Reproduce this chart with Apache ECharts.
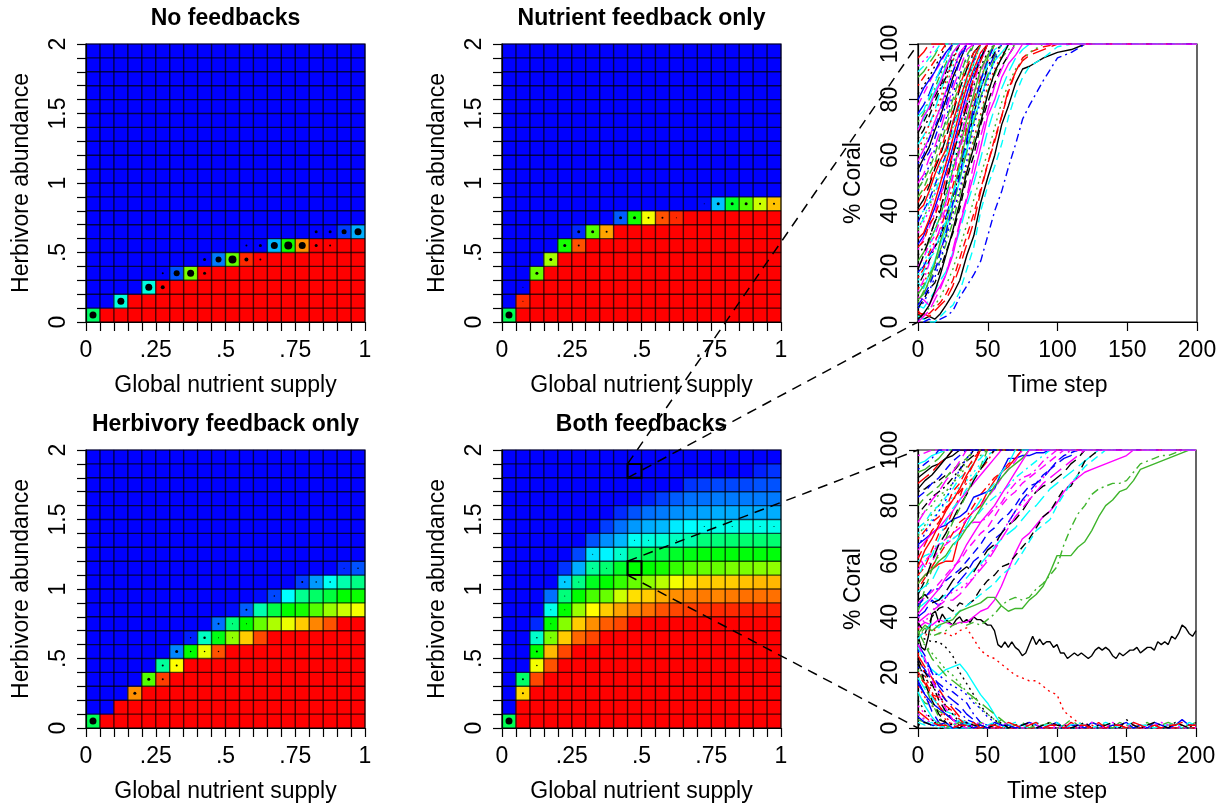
<!DOCTYPE html>
<html><head><meta charset="utf-8">
<style>html,body{margin:0;padding:0;background:#fff}#c{width:1223px;height:805px}#c canvas{filter:blur(0.4px)}</style>
<script src="https://cdn.jsdelivr.net/npm/echarts@6/dist/echarts.min.js"></script>
</head><body><div id="c"></div>
<script>
// ---------- axis text ----------
const panelTitles = ['No feedbacks','Nutrient feedback only','Herbivory feedback only','Both feedbacks'];
const nutrientTickLabels = ['0','.25','.5','.75','1'];
const herbivoreTickLabels = ['0','.5','1','1.5','2'];
const cellCategories = ['0','1','2','3','4','5','6','7','8','9','10','11','12','13','14','15','16','17','18','19'];

// ---------- heat-map values (0 blue ... 100 red), column by column ----------
// redRows: how many rows from the bottom are fully red; mixed: the next rows upward; rest are blue.
const noFeedRedRows = [0,1,1,2,2,3,3,3,4,4,4,4,5,5,5,5,6,6,6,6];
const noFeedMixed = [[40],[],[28],[],[28],[],[8],[62],[],[12],[60],[96],[],[18],[52],[86],[],[],[6],[17]];
const noFeedDots = [[0,0,7],[2,1,7],[4,2,7],[5,2,4],[5,3,2],[6,3,6],[7,3,7],[8,3,3],[8,4,3],[9,4,6],[10,4,8],[11,4,4],[12,4,2],[11,5,2],[12,5,3],[13,5,7],[14,5,8],[15,5,7],[16,5,3],[17,5,2],[16,6,3],[17,6,3],[18,6,5],[19,6,7]];

const nutrientRedRows = [0,1,3,4,5,5,6,6,7,7,7,7,7,8,8,8,8,8,8,8];
const nutrientMixed = [[42],[96],[60],[66],[52],[92,4],[58],[84],[9],[52],[74],[92],[96],[],[1],[19],[46],[58],[70],[81]];
const nutrientDots = [[0,0,7],[1,1,1],[1,2,1],[2,3,3],[3,4,3],[4,5,3],[5,5,2],[5,6,3],[6,6,3],[7,6,2],[8,7,3],[9,7,3],[10,7,2],[11,7,2],[12,7,1],[14,8,1],[15,8,3],[16,8,3],[17,8,3],[18,8,2],[19,8,2]];

const herbivoryRedRows = [0,1,2,2,3,3,4,5,5,5,6,6,6,7,7,7,7,7,8,8];
const herbivoryMixed = [[42],[],[],[86],[58],[94,35],[75,13],[50,3],[73,31],[92,48,11],[64,38,1],[80,50,9],[93,60,33,1],[67,43,7],[73,50,25],[80,52,36,6],[87,58,40,15],[92,65,44,26],[70,50,33,4],[74,51,37,8]];
const herbivoryDots = [[0,0,7],[3,2,3],[4,3,3],[5,3,2],[5,4,2],[6,4,2],[6,5,3],[7,5,1.5],[8,5,1.5],[9,5,1.5],[7,6,1.5],[8,6,2.5],[9,6,1],[10,6,1],[9,7,2],[10,7,1],[11,7,1],[11,8,2],[13,9,1.5],[15,10,2],[16,10,1.5],[17,10,1.5],[18,11,1],[19,11,1.5]];

const bothRedRows = [0,2,3,4,5,6,6,7,7,8,8,8,8,8,8,8,8,8,8,8];
const bothMixed = [[42],[79,40],[93,74,50,30,4],[92,82,62,50,27,11],[93,80,63,50,38,20,5],[90,80,65,50,37,17,7],[93,86,75,57,47,35,22,8],[91,80,60,50,39,24,14,6],[93,84,70,55,46,30,18,11,4],[87,78,60,50,38,26,15,8],[89,80,64,50,42,28,17,11,3],[92,83,68,52,43,29,18,12,6],[93,86,74,55,46,31,23,14,9],[94,87,78,58,48,33,25,15,11,5],[95,88,80,60,49,38,26,16,11,6],[96,87,80,60,49,38,27,17,12,7],[96,88,80,62,49,39,27,17,12,7],[97,89,81,62,49,39,27,17,12,7],[97,89,82,63,49,39,27,17,12,8,3],[97,89,82,64,49,39,27,17,12,8,5]];
const bothDots = [[0,0,7],[1,2,2],[1,3,2],[2,4,1.5],[2,5,2],[2,6,1.5],[3,6,1],[3,7,1],[3,8,1],[4,8,1],[4,9,1],[4,10,1.5],[5,10,1],[6,11,1],[7,11,1],[6,12,1],[8,12,1],[9,13,1],[10,13,1],[12,13,1],[14,14,1],[16,14,1],[18,14,1],[19,14,1]];

// ---------- zoom squares on the "Both feedbacks" panel: [nutrient, herbivore] lower-left corners ----------
const upperSquare = [0.45,1.8];
const lowerSquare = [0.45,1.1];

// ---------- upper run chart (Nutrient feedback time series) ----------
const upperTime = [0,4,8,12,16,20,25,30,35,40,45,50,55,60,65,70,75,80,90,100,110,120];
const upperRuns = [
[3,1,2,1,3,6,10,15,24,31,43,52,60,71,78,86,91,92,95,97,98,100],
[4,2,3,5,7,10,15,23,31,39,48,57,66,74,83,90,95,97,99,100],
[2,3,5,6,9,13,19,27,35,44,53,61,70,79,86,91,94,97,100],
[1,0,1,0,1,2,4,9,13,17,22,31,40,47,56,64,73,78,87,95,97,100],
[6,5,8,11,15,18,25,33,42,50,59,69,77,84,90,95,98,100],
[9,8,6,10,13,17,24,35,44,53,63,74,80,88,93,96,100],
[5,8,12,14,19,25,32,41,52,60,71,79,86,92,96,100],
[12,14,18,21,26,31,39,47,56,66,75,85,91,96,100],
[7,11,14,19,22,28,36,46,55,65,74,83,89,95,98,100],
[18,20,24,27,31,38,46,56,66,75,84,91,96,100],
[14,12,17,22,28,33,42,51,62,72,81,88,94,97,100],
[20,23,28,31,37,43,52,62,71,82,90,96,100],
[24,27,30,36,41,47,56,65,76,85,92,97,100],
[16,19,25,29,33,40,49,58,70,80,88,94,100],
[10,13,17,20,26,31,41,52,61,72,81,89,95,100],
[28,31,36,41,47,54,63,73,82,90,95,100],
[2,1,0,0,2,4,6,11,19,27,40,49,56,64,74,82,88,92,95,99,100],
[32,36,40,46,50,56,66,74,84,91,96,100],
[13,17,22,27,30,37,45,54,64,75,84,92,97,100],
[3,3,2,4,6,8,13,20,28,36,47,57,65,74,84,90,94,96,98,100],
[22,25,29,33,38,45,55,63,73,82,91,96,100],
[36,40,44,49,55,60,71,79,87,94,100],
[38,40,46,50,57,63,72,81,90,96,100],
[26,30,34,39,46,50,60,70,80,88,94,100],
[41,44,49,55,60,66,75,84,91,97,100],
[30,32,37,43,50,57,66,76,85,91,97,100],
[45,48,53,57,64,70,78,86,93,100],
[47,52,56,62,66,73,82,89,95,100],
[34,37,43,46,52,59,68,78,87,93,100],
[50,53,59,63,69,76,84,91,98,100],
[55,59,63,69,74,80,88,94,100],
[43,47,50,56,61,68,76,85,92,97,100],
[60,63,68,72,78,85,92,97,100],
[52,58,61,66,72,78,86,94,100],
[64,67,71,76,83,88,94,100],
[58,62,66,72,77,83,90,97,100],
[68,72,76,81,85,90,97,100],
[62,66,71,75,80,87,94,100],
[72,75,80,84,89,93,100],
[75,78,82,87,90,95,100],
[70,73,78,83,87,92,97,100],
[78,82,86,90,93,97,100],
[82,85,88,92,95,100],
[85,88,91,94,97,100],
[88,90,93,96,100],
[80,84,87,90,94,97,100],
[90,92,95,97,100],
[92,94,96,100],
[66,69,74,79,84,88,95,100],
[95,97,100],
[8,10,15,21,29,35,46,57,68,78,87,95,100],
[6,9,13,18,25,32,43,53,65,77,87,94,100],
[17,21,26,33,39,45,57,68,79,90,96,100],
[11,15,21,28,34,42,53,64,76,86,94,100],
[19,24,30,36,40,49,60,69,78,88,95,100],
[40,42,47,53,58,62,72,80,88,95,100],
[48,51,55,60,67,72,80,88,96,100],
[5,7,11,16,22,30,39,48,58,70,80,87,94,100],
[15,18,23,25,32,36,46,55,63,74,85,93,98,100],
[0,2,4,8,12,17,26,36,45,57,67,76,85,91,96,100],
[1,3,6,11,17,24,33,43,54,63,72,82,90,95,100],
[27,29,35,38,44,52,61,71,79,88,94,100],
[33,38,41,48,54,61,70,78,86,93,100],
[57,60,66,70,75,82,90,96,100],
[74,76,81,86,91,95,100],
[69,74,77,82,86,91,97,100]
];

// ---------- lower run chart (Both feedbacks time series) ----------
const lowerTimeStep = 5;
const lowerLongRunStep = 2.5;
const lowerLongRun = [33,29,28,33,41,42,38,41,39,38,37,39,40,38,39,38,40,39,39,38,37,37,35,30,29,31,29,31,29,28,26,27,30,33,30,32,30,31,31,29,30,27,27,25,26,27,26,27,26,25,26,28,29,28,29,28,26,25,27,26,27,28,28,29,27,28,29,29,28,31,30,31,30,33,32,34,37,36,34,33,35];
const lowerRuns = [
[55,58,64,70,72,78,83,90,95,100],
[31,30,27,24,21,19,16,13,10,7,5,3,1,0],
[22,20,18,16,14,13,11,9,5,2,1,0],
[43,45,47,46,48,50,52,54,57,59,62,65,68,70,72,75,78,80,83,86,88,90,92,94,96,98,100],
[36,38,37,39,38,37,38,38,40,42,43,46,51,57,63,68,70,73,76,78,81,85,88,90,92,93,94,95,96,97,98,100],
[38,34,40,43,44,42,45,44,46,50,53,55,58,59,62,65,68,72,76,78,82,86,87,91,96,98,100],
[36,33,36,34,34,33,35,36,32,28,26,25,23,21,19,18,17,17,15,13,12,6,4,2,1,1,0,1],
[33,36,33,34,35,37,38,37,38,37,39,41,44,46,47,46,47,50,52,55,58,66,72,77,80,84,86,87,88,88,89,92,95,96,97,98,98,99,100],
[40,42,46,44,47,50,53,56,60,62,65,68,70,74,78,82,85,88,90,93,95,97,98,100],
[29,24,21,19,21,22,23,20,16,12,9,5,1,0],
[45,47,49,52,55,58,60,64,67,70,72,76,80,83,85,88,90,92,94,96,98,100],
[33,32,31,31,29,26,20,16,12,8,5,3,1,0],
[50,54,58,62,66,70,74,76,80,84,87,90,92,95,97,100],
[35,30,25,22,19,17,15,13,11,9,7,5,3,1,0],
[66,68,70,72,73,75,76,78,83,84,85,86,92,97,97,98,98,99,99,100],
[32,35,38,36,39,40,42,44,46,48,50,52,55,57,59,63,67,71,73,75,80,84,88,91,94,96,98,100],
[40,38,42,45,47,49,50,52,54,58,61,65,70,74,78,81,84,87,90,93,96,98,100],
[85,86,88,89,91,92,95,96,98,100],
[26,22,18,14,10,7,4,2,0],
[34,37,35,37,38,39,42,43,44,45,47,47,44,42,43,43,46,48,51,56,62,62,62,65,67,71,76,80,82,85,86,89,93,94,95,96,97,98,99,100],
[44,47,50,50,53,55,57,60,63,66,70,72,75,77,80,84,87,88,91,93,96,98,99,100],
[70,72,75,78,81,83,87,89,92,95,98,100],
[62,58,60,64,66,68,70,72,74,74,76,79,81,85,88,90,91,93,96,98,100],
[46,48,45,46,49,53,56,58,56,60,64,66,70,73,75,78,82,85,87,88,90,92,95,97,100],
[52,55,57,59,60,60,70,75,78,80,85,89,92,94,97,100],
[80,83,85,87,90,93,95,97,100],
[28,24,20,19,17,15,14,12,9,7,4,2,1,0],
[60,62,63,66,67,68,70,72,75,78,81,83,85,87,90,92,94,96,98,100],
[38,40,42,44,46,46,48,51,54,57,60,64,68,72,76,79,82,85,88,90,92,94,96,98,100],
[90,92,94,95,97,98,100],
[20,17,12,8,5,3,1,0],
[75,78,80,84,85,88,91,94,96,98,100],
[24,21,17,13,10,8,6,3,2,0],
[18,14,11,8,6,5,3,2,1,0],
[64,67,70,72,75,78,82,85,88,91,94,97,100],
[25,20,16,10,6,3,1,0],
[15,11,8,6,3,1,0],
[12,9,8,6,5,3,2,1,0],
[30,26,20,15,12,10,8,5,3,1,0],
[95,96,98,99,100],
[57,60,63,66,68,70,72,75,78,80,83,86,90,93,96,100],
[10,6,3,1,0],
[68,71,74,76,79,82,85,88,90,93,96,100],
[92,93,95,97,100],
[16,12,9,7,5,3,2,1,0],
[72,74,78,80,83,86,90,92,95,97,100],
[8,5,3,2,1,0],
[77,80,83,85,87,90,93,96,100],
[88,90,92,95,97,100],
[52,55,57,60,62,66,68,72,75,79,83,87,90,93,95,97,100],
[83,85,88,90,93,96,98,100],
[5,3,1,0],
[98,99,100],
[48,53,60,66,70,75,80,84,89,93,97,100],
[58,64,68,73,78,82,86,91,95,100],
[42,50,57,63,68,74,79,84,90,94,100],
[65,70,74,78,82,88,93,97,100],
[54,60,62,68,74,79,82,86,90,94,98,100],
[74,78,82,85,89,92,96,100],
[86,89,91,94,97,100],
[61,66,71,74,79,85,88,93,97,100],
[69,73,77,80,85,88,92,96,100],
[93,95,97,100],
[49,51,53,58,61,65,69,73,78,82,85,88,92,95,100],
[41,44,47,50,54,57,61,66,70,74,77,80,84,88,92,96,100],
[24,16,10,5,2,0],
[27,19,13,8,4,1,0],
[21,15,9,4,1,0],
[17,12,6,2,0],
[13,8,4,1,0],
[30,25,17,12,7,3,1,0],
[23,18,15,12,8,5,2,1,0],
[19,16,12,11,8,6,3,1,0],
[3,2,1,2,0,1,2,1,0,2,1,1,3,0,1,2,0,1,1,2,0,1,3,1,0,2,1,1,0,2,1,0,1,2,0,1,2,1,0,1,2],
[4,2,1,1,2,0,1,2,0,1,0,2,1,1,0,1,2,1,0,1,2,0,1,1,0,2,1,0,1,1,2,0,1,0,2,1,0,1,3,1,1],
[2,1,2,0,1,1,3,1,2,0,1,2,0,1,2,1,0,2,1,1,2,0,1,2,1,0,1,2,1,0,1,2,1,1,0,1,1,2,0,2,1],
[5,3,2,1,0,2,1,0,1,2,1,0,1,2,1,0,2,1,0,1,0,1,2,0,1,2,1,0,2,1,0,2,1,0,1,2,1,1,0,1,0],
[1,2,1,3,2,1,0,2,1,1,0,1,2,0,1,1,2,0,1,2,1,1,0,1,2,0,1,1,2,0,3,1,0,1,2,1,0,2,1,0,2],
[6,4,2,1,1,0,1,1,2,0,1,1,0,2,1,0,1,2,0,1,1,0,2,1,1,0,2,0,1,1,0,2,1,0,1,0,1,1,2,1,1]
];

// ---------- styles (R palette and line types, cycled) ----------
const runColours = ['#000000','#ff0000','#3fb52c','#0000ff','#00ffff','#ff00ff'];
const runDashes = ['solid',[8,5],[2,4],[2,4,8,4],[14,6]];
const rainbowStops = ['#0000ff','#00ffff','#00ff00','#ffff00','#ff0000'];
const FONT = '"Liberation Sans", Arial, Helvetica, sans-serif';
const TEXT = 23;

const heatPanels = [
 {redRows:noFeedRedRows, mixed:noFeedMixed, dots:noFeedDots, box:{left:86,top:44,width:279,height:278}, title:panelTitles[0]},
 {redRows:nutrientRedRows, mixed:nutrientMixed, dots:nutrientDots, box:{left:502,top:44,width:279,height:278}, title:panelTitles[1]},
 {redRows:herbivoryRedRows, mixed:herbivoryMixed, dots:herbivoryDots, box:{left:86,top:450,width:279,height:278}, title:panelTitles[2]},
 {redRows:bothRedRows, mixed:bothMixed, dots:bothDots, box:{left:502,top:450,width:279,height:278}, title:panelTitles[3]}
];

function cellsOf(redRows, mixed){
  const out=[];
  redRows.forEach((reds,c)=>{
    for(let r=0;r<20;r++){
      let v=0;
      if(r<reds) v=100;
      else if(r-reds<mixed[c].length) v=mixed[c][r-reds];
      out.push([c,r,v]);
    }
  });
  return out;
}
function heldToEnd(times, ys, endT){
  const pts=ys.map((y,i)=>[times[i],y]);
  if(times[ys.length-1]<endT) pts.push([endT,ys[ys.length-1]]);
  return pts;
}

const grid=[],xAxis=[],yAxis=[],series=[],title=[];
const labelStyle={fontFamily:FONT,fontSize:TEXT,color:'#000'};
const axisLine={show:true,onZero:false,lineStyle:{color:'#000',width:1.2}};
const axisTick={show:true,length:9,inside:false,lineStyle:{color:'#000',width:1.2}};
const heatIdx=[];

heatPanels.forEach((p,i)=>{
  grid.push(Object.assign({containLabel:false,show:false},p.box));
  const base=xAxis.length;
  xAxis.push({type:'category',gridIndex:i,data:cellCategories,show:false});
  yAxis.push({type:'category',gridIndex:i,data:cellCategories,show:false});
  xAxis.push({type:'value',gridIndex:i,min:0,max:1,interval:0.05,position:'bottom',z:5,
    name:'Global nutrient supply',nameLocation:'middle',nameGap:52,nameTextStyle:labelStyle,
    axisLine,axisTick,splitLine:{show:false},
    axisLabel:Object.assign({},labelStyle,{margin:17,formatter:v=>{const k=Math.round(v/0.05);return k%5===0?nutrientTickLabels[k/5]:'';}})});
  yAxis.push({type:'value',gridIndex:i,min:0,max:2,interval:0.1,position:'left',z:5,
    name:'Herbivore abundance',nameLocation:'middle',nameGap:53,nameTextStyle:labelStyle,
    axisLine,axisTick,splitLine:{show:false},
    axisLabel:Object.assign({},labelStyle,{margin:16,rotate:90,formatter:v=>{const k=Math.round(v/0.1);return k%5===0?herbivoreTickLabels[k/5]:'';}})});
  heatIdx.push(series.length);
  series.push({type:'heatmap',xAxisIndex:base,yAxisIndex:base,data:cellsOf(p.redRows,p.mixed),silent:true,animation:false,progressive:0,
    itemStyle:{borderWidth:0},emphasis:{disabled:true}});
  series.push({type:'scatter',xAxisIndex:base,yAxisIndex:base,data:p.dots,silent:true,animation:false,z:6,
    symbolSize:d=>d[2],itemStyle:{color:'#000',opacity:1}});
  title.push({text:p.title,left:p.box.left+p.box.width/2-5,top:p.box.top-42,textAlign:'center',
    textStyle:{fontFamily:FONT,fontSize:TEXT,fontWeight:'bold',color:'#000'}});
});

function addRunPanel(box, runs){
  const g=grid.length;
  grid.push(Object.assign({show:true,borderColor:'#000',borderWidth:1.2,backgroundColor:'#fff'},box));
  const ax=xAxis.length;
  xAxis.push({type:'value',gridIndex:g,min:0,max:200,interval:50,name:'Time step',nameLocation:'middle',nameGap:52,nameTextStyle:labelStyle,
    axisLine,axisTick,splitLine:{show:false},axisLabel:Object.assign({},labelStyle,{margin:17})});
  yAxis.push({type:'value',gridIndex:g,min:0,max:100,interval:20,name:'% Coral',nameLocation:'middle',nameGap:53,nameTextStyle:labelStyle,
    axisLine,axisTick,splitLine:{show:false},axisLabel:Object.assign({},labelStyle,{margin:16,rotate:90})});
  runs.forEach((r,i)=>{
    series.push({type:'line',xAxisIndex:ax,yAxisIndex:ax,data:r,showSymbol:false,silent:true,animation:false,
      lineStyle:{color:runColours[i%6],type:runDashes[i%5],width:1.4},emphasis:{disabled:true}});
  });
}
addRunPanel({left:918,top:44,width:279,height:278}, upperRuns.map(r=>heldToEnd(upperTime,r,200)));
const lowerTime=[]; for(let k=0;k<=40;k++) lowerTime.push(k*lowerTimeStep);
const lowerFine=lowerLongRun.map((y,i)=>[i*lowerLongRunStep,y]);
addRunPanel({left:918,top:450,width:278,height:278}, [lowerFine].concat(lowerRuns.map(r=>heldToEnd(lowerTime,r,200))));

const chart=echarts.init(document.getElementById('c'),null,{renderer:'canvas'});
chart.setOption({animation:false,backgroundColor:'#fff',title,grid,xAxis,yAxis,series,
  visualMap:{type:'continuous',show:false,min:0,max:100,dimension:2,seriesIndex:heatIdx,inRange:{color:rainbowStops}}});

// cell lines, panel frames, zoom squares and dashed leader lines, positioned through the axes
const bothAxes={xAxisIndex:7,yAxisIndex:7};
const upAxes={xAxisIndex:8,yAxisIndex:8};
const lowAxes={xAxisIndex:9,yAxisIndex:9};
const px=(a,v)=>chart.convertToPixel(a,v);
const gfx=[];
[1,3,5,7].forEach(k=>{
  const ax={xAxisIndex:k,yAxisIndex:k};
  const a=px(ax,[0,0]), b=px(ax,[1,2]);
  for(let n=1;n<20;n++){
    const p=px(ax,[n/20,n/10]);
    gfx.push({type:'line',z:50,silent:true,shape:{x1:p[0],y1:a[1],x2:p[0],y2:b[1]},style:{stroke:'rgba(0,0,0,0.7)',lineWidth:1.4}});
    gfx.push({type:'line',z:50,silent:true,shape:{x1:a[0],y1:p[1],x2:b[0],y2:p[1]},style:{stroke:'rgba(0,0,0,0.7)',lineWidth:1.4}});
  }
  gfx.push({type:'rect',z:90,silent:true,shape:{x:a[0],y:b[1],width:b[0]-a[0],height:a[1]-b[1]},style:{fill:null,stroke:'#000',lineWidth:1.2}});
});
function square(sq){
  const a=px(bothAxes,sq), b=px(bothAxes,[sq[0]+0.05,sq[1]+0.1]);
  gfx.push({type:'rect',z:100,silent:true,shape:{x:a[0],y:b[1],width:b[0]-a[0],height:a[1]-b[1]},style:{fill:null,stroke:'#000',lineWidth:2}});
  return {topLeft:[a[0],b[1]],bottomLeft:[a[0],a[1]]};
}
function leader(from,to){
  gfx.push({type:'polyline',z:100,silent:true,shape:{points:[from,to]},style:{stroke:'#000',lineWidth:1.5,lineDash:[10,7],fill:null}});
}
const s1=square(upperSquare), s2=square(lowerSquare);
leader(s1.topLeft,px(upAxes,[0,100]));
leader(s1.bottomLeft,px(upAxes,[0,0]));
leader(s2.topLeft,px(lowAxes,[0,100]));
leader(s2.bottomLeft,px(lowAxes,[0,0]));
chart.setOption({graphic:gfx});
</script></body></html>
